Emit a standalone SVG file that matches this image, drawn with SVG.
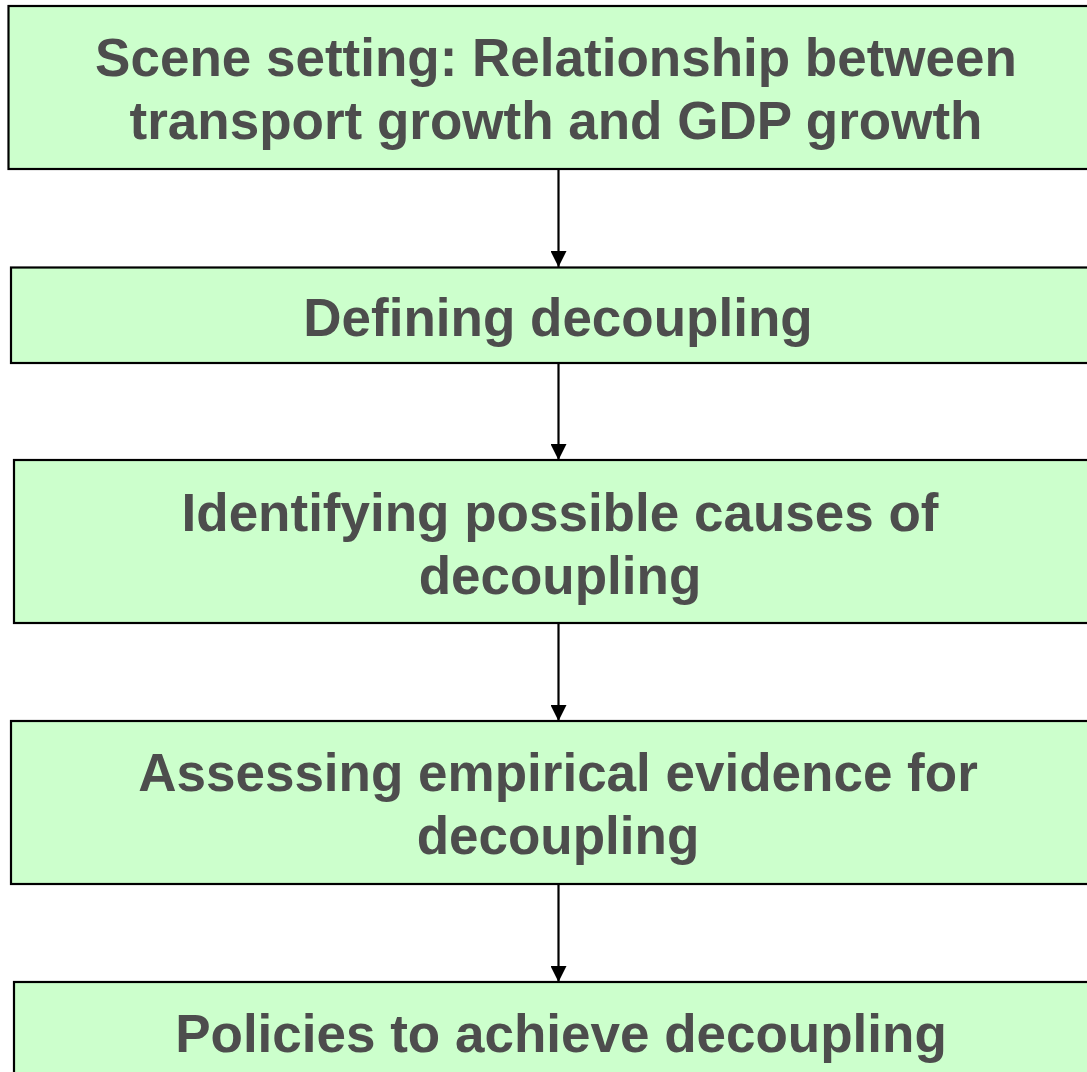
<svg xmlns="http://www.w3.org/2000/svg" width="1087" height="1072" viewBox="0 0 1087 1072">
<defs>
<style>
.box{fill:#ccffcc;stroke:#000;stroke-width:2.2}
.t{font-family:"Liberation Sans",Arial,sans-serif;font-weight:bold;font-size:53px;fill:#4d4d4d;text-anchor:middle}
.c{stroke:#000;stroke-width:2.2;fill:none}
</style>
<marker id="ah" markerWidth="16" markerHeight="16" refX="16" refY="8" orient="auto" markerUnits="userSpaceOnUse" viewBox="0 0 16 16">
<path d="M0,0 L16,8 L0,16 Z" fill="#000"/>
</marker>
</defs>
<rect width="1087" height="1072" fill="#fff"/>
<g id="connectors">
<line class="c" x1="558.5" y1="169" x2="558.5" y2="267" marker-end="url(#ah)"/>
<line class="c" x1="558.5" y1="363" x2="558.5" y2="460" marker-end="url(#ah)"/>
<line class="c" x1="558.5" y1="623" x2="558.5" y2="721" marker-end="url(#ah)"/>
<line class="c" x1="558.5" y1="884" x2="558.5" y2="982" marker-end="url(#ah)"/>
</g>
<g id="node1">
<rect class="box" x="8.5" y="6" width="1090" height="163"/>
<text class="t" x="556" y="76">Scene setting: Relationship between</text>
<text class="t" x="556" y="139">transport growth and GDP growth</text>
</g>
<g id="node2">
<rect class="box" x="11" y="267.5" width="1090" height="95.5"/>
<text class="t" x="558" y="336">Defining decoupling</text>
</g>
<g id="node3">
<rect class="box" x="14" y="460" width="1090" height="163"/>
<text class="t" x="560" y="531">Identifying possible causes of</text>
<text class="t" x="560" y="594">decoupling</text>
</g>
<g id="node4">
<rect class="box" x="11" y="721" width="1090" height="163"/>
<text class="t" x="558" y="791">Assessing empirical evidence for</text>
<text class="t" x="558" y="854">decoupling</text>
</g>
<g id="node5">
<rect class="box" x="14" y="982" width="1090" height="120"/>
<text class="t" x="561" y="1052">Policies to achieve decoupling</text>
</g>
</svg>
